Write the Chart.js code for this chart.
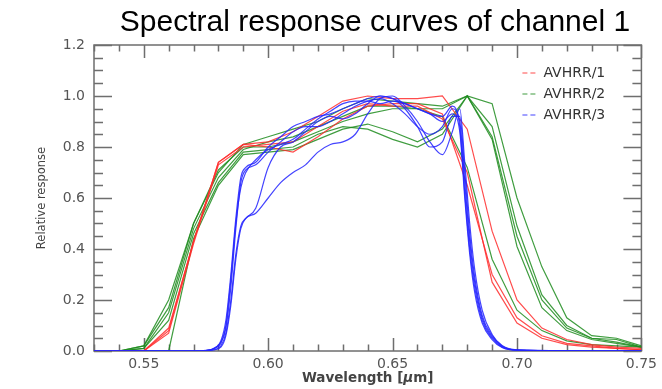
<!DOCTYPE html>
<html>
<head>
<meta charset="utf-8">
<script src="https://cdn.jsdelivr.net/npm/chart.js@4.4.1/dist/chart.umd.min.js"></script>
<style>
  html, body { margin: 0; padding: 0; background: #fff; }
  #wrap { width: 662px; height: 389px; position: relative; }
</style>
</head>
<body>
<div id="wrap"><canvas id="c" width="662" height="389"></canvas></div>
<script>
// ---- data ----
const chartTitle = 'Spectral response curves of channel 1';
const xTitle = ['Wavelength [', 'μ', 'm]'];
const yTitle = 'Relative response';
const seriesNames = ['AVHRR/1', 'AVHRR/2', 'AVHRR/3'];

const xTickValues = [0.55, 0.60, 0.65, 0.70, 0.75];
const xTickLabels = ['0.55', '0.60', '0.65', '0.70', '0.75'];
const yTickValues = [0.0, 0.2, 0.4, 0.6, 0.8, 1.0, 1.2];
const yTickLabels = ['0.0', '0.2', '0.4', '0.6', '0.8', '1.0', '1.2'];

// AVHRR/1 and AVHRR/2 are sampled every 0.01 µm
const wlCoarse = [0.53,0.54,0.55,0.56,0.57,0.58,0.59,0.60,0.61,0.62,0.63,0.64,0.65,0.66,0.67,0.68,0.69,0.70,0.71,0.72,0.73,0.74,0.75];

const avhrr1_a = [0,0,0,0.08,0.43,0.74,0.81,0.82,0.86,0.92,0.98,1.00,0.99,0.99,1.00,0.87,0.47,0.20,0.09,0.045,0.025,0.015,0.01];
const avhrr1_b = [0,0,0,0.09,0.43,0.74,0.81,0.80,0.78,0.84,0.91,0.96,0.97,0.97,0.93,0.65,0.30,0.13,0.06,0.03,0.02,0.01,0.005];
const avhrr1_c = [0,0,0,0.07,0.42,0.73,0.80,0.81,0.82,0.88,0.94,0.97,0.96,0.96,0.91,0.70,0.27,0.11,0.05,0.025,0.015,0.01,0.005];

const avhrr2_a = [0,0,0.02,0.20,0.50,0.70,0.81,0.84,0.87,0.90,0.95,0.99,0.98,0.97,0.96,1.00,0.97,0.60,0.33,0.13,0.06,0.05,0.02];
const avhrr2_b = [0,0,0.01,0.15,0.48,0.68,0.79,0.82,0.84,0.88,0.92,0.96,0.96,0.95,0.95,1.00,0.88,0.49,0.22,0.10,0.05,0.045,0.015];
const avhrr2_c = [0,0,0.01,0.12,0.46,0.66,0.78,0.79,0.80,0.85,0.88,0.87,0.83,0.80,0.85,1.00,0.84,0.45,0.20,0.09,0.05,0.035,0.015];
const avhrr2_d = [0,0,0,0,0.44,0.65,0.77,0.78,0.79,0.83,0.87,0.89,0.86,0.82,0.87,1.00,0.83,0.41,0.17,0.08,0.045,0.03,0.015];
const avhrr2_e = [0,0,0.02,0.17,0.50,0.71,0.80,0.80,0.82,0.86,0.90,0.93,0.95,0.95,0.92,0.72,0.36,0.16,0.08,0.04,0.025,0.02,0.015];

// AVHRR/3 is finely sampled
const wlFine = [0.53,0.57,0.575,0.578,0.581,0.583,0.585,0.587,0.589,0.591,0.595,0.60,0.605,0.61,0.615,0.62,0.625,0.63,0.635,0.64,0.645,0.65,0.655,0.66,0.665,0.67,0.674,0.677,0.679,0.681,0.683,0.686,0.69,0.694,0.70,0.75];

const avhrr3_a = [0,0,0.003,0.01,0.04,0.12,0.30,0.52,0.68,0.72,0.74,0.80,0.84,0.88,0.90,0.92,0.93,0.95,0.97,0.99,1.00,0.99,0.97,0.95,0.93,0.92,0.96,0.88,0.62,0.40,0.25,0.12,0.05,0.015,0.003,0];
const avhrr3_b = [0,0,0.002,0.008,0.03,0.09,0.25,0.48,0.66,0.71,0.73,0.78,0.82,0.86,0.88,0.88,0.90,0.93,0.96,0.98,0.99,0.97,0.93,0.88,0.85,0.88,0.95,0.90,0.66,0.43,0.27,0.13,0.055,0.018,0.004,0];
const avhrr3_c = [0,0,0.001,0.005,0.02,0.07,0.20,0.38,0.49,0.52,0.56,0.72,0.80,0.82,0.86,0.90,0.92,0.91,0.93,0.97,1.00,0.99,0.95,0.88,0.80,0.82,0.92,0.92,0.70,0.46,0.29,0.14,0.06,0.02,0.004,0];
const avhrr3_d = [0,0,0.001,0.004,0.015,0.06,0.18,0.36,0.48,0.52,0.54,0.60,0.66,0.70,0.73,0.78,0.81,0.82,0.85,0.93,0.99,1.00,0.96,0.90,0.82,0.77,0.86,0.95,0.74,0.50,0.32,0.16,0.065,0.022,0.005,0];
const avhrr3_e = [0,0,0.002,0.009,0.035,0.10,0.28,0.50,0.64,0.70,0.75,0.79,0.81,0.83,0.87,0.91,0.94,0.97,0.98,0.98,0.97,0.98,0.97,0.95,0.93,0.90,0.93,0.86,0.60,0.38,0.23,0.11,0.045,0.014,0.003,0];

// ---- styling ----
const COLORS = ['rgba(255,45,45,0.85)', 'rgba(30,140,30,0.85)', 'rgba(35,35,255,0.85)'];
const AXIS = '#6e6e6e';

function pts(xs, ys) { return xs.map((x, i) => ({ x: x, y: ys[i] })); }
function ds(group, xs, ys, smooth) {
  return {
    label: seriesNames[group],
    data: pts(xs, ys),
    borderColor: COLORS[group],
    borderWidth: 1.2,
    pointRadius: 0,
    showLine: true,
    tension: 0,
    cubicInterpolationMode: smooth ? 'monotone' : 'default',
    fill: false
  };
}

const datasets = [
  ds(2, wlFine, avhrr3_a, true), ds(2, wlFine, avhrr3_b, true), ds(2, wlFine, avhrr3_c, true),
  ds(2, wlFine, avhrr3_d, true), ds(2, wlFine, avhrr3_e, true),
  ds(0, wlCoarse, avhrr1_a), ds(0, wlCoarse, avhrr1_b), ds(0, wlCoarse, avhrr1_c),
  ds(1, wlCoarse, avhrr2_a), ds(1, wlCoarse, avhrr2_b), ds(1, wlCoarse, avhrr2_c),
  ds(1, wlCoarse, avhrr2_d), ds(1, wlCoarse, avhrr2_e)
];

const near = (a, b) => Math.abs(a - b) < 1e-9;

const framePlugin = {
  id: 'frame',
  beforeDatasetsDraw(chart) {
    const { ctx, chartArea: a, scales: { x, y } } = chart;
    ctx.save();
    ctx.strokeStyle = AXIS;
    ctx.lineWidth = 1.5;
    ctx.strokeRect(a.left, a.top, a.right - a.left, a.bottom - a.top);
    ctx.beginPath();
    for (let k = 53; k <= 75; k++) {
      const v = k / 100;
      const px = Math.round(x.getPixelForValue(v)) + 0.5;
      const L = xTickValues.some(m => near(m, v)) ? 13 : 6.5;
      ctx.moveTo(px, a.bottom); ctx.lineTo(px, a.bottom - L);
      ctx.moveTo(px, a.top); ctx.lineTo(px, a.top + L);
    }
    for (let k = 0; k <= 24; k++) {
      const v = k * 0.05;
      const py = Math.round(y.getPixelForValue(v)) + 0.5;
      const L = (k % 4 === 0) ? 18 : 9;
      ctx.moveTo(a.left, py); ctx.lineTo(a.left + L, py);
      ctx.moveTo(a.right, py); ctx.lineTo(a.right - L, py);
    }
    ctx.stroke();
    ctx.restore();
  },
  afterDraw(chart) {
    const { ctx, chartArea: a } = chart;
    ctx.save();
    // main title
    ctx.fillStyle = '#000';
    ctx.font = '30px "Liberation Sans", Arial, sans-serif';
    ctx.textAlign = 'center';
    ctx.textBaseline = 'alphabetic';
    ctx.fillText(chartTitle, 375, 31);
    // y title
    ctx.save();
    ctx.translate(42, (a.top + a.bottom) / 2);
    ctx.rotate(-Math.PI / 2);
    ctx.font = '11.5px "DejaVu Sans", sans-serif';
    ctx.fillStyle = '#444';
    ctx.textAlign = 'center';
    ctx.textBaseline = 'middle';
    ctx.fillText(yTitle, 0, 0);
    ctx.restore();
    // x title with italic mu
    const fN = 'bold 13.5px "DejaVu Sans", sans-serif';
    const fI = 'italic bold 13.5px "DejaVu Sans", sans-serif';
    const fonts = [fN, fI, fN];
    let widths = xTitle.map((t, i) => { ctx.font = fonts[i]; return ctx.measureText(t).width; });
    let tot = widths.reduce((s, w) => s + w, 0);
    let cx = (a.left + a.right) / 2 - tot / 2;
    ctx.fillStyle = '#444';
    ctx.textAlign = 'left';
    ctx.textBaseline = 'middle';
    xTitle.forEach((t, i) => { ctx.font = fonts[i]; ctx.fillText(t, cx, 378); cx += widths[i]; });
    // legend
    ctx.font = '14px "DejaVu Sans", sans-serif';
    ctx.textBaseline = 'middle';
    seriesNames.forEach((name, i) => {
      const yy = a.top + 28 + i * 21;
      ctx.strokeStyle = COLORS[i];
      ctx.lineWidth = 1.2;
      ctx.setLineDash([5, 3]);
      ctx.beginPath();
      ctx.moveTo(a.right - 119, yy); ctx.lineTo(a.right - 106, yy);
      ctx.stroke();
      ctx.setLineDash([]);
      ctx.fillStyle = '#333';
      ctx.fillText(name, a.right - 98, yy);
    });
    ctx.restore();
  }
};

new Chart(document.getElementById('c'), {
  type: 'scatter',
  data: { datasets: datasets },
  plugins: [framePlugin],
  options: {
    responsive: false,
    animation: false,
    layout: { padding: { top: 45, right: 20, left: 0, bottom: 0 } },
    plugins: { legend: { display: false }, tooltip: { enabled: false }, title: { display: false } },
    scales: {
      x: {
        type: 'linear', min: 0.53, max: 0.75,
        afterBuildTicks: s => { s.ticks = xTickValues.map(v => ({ value: v })); },
        afterFit: s => { s.height = 38; },
        grid: { display: false, drawTicks: false },
        border: { display: false },
        ticks: {
          padding: 5, color: '#555', font: { family: 'DejaVu Sans', size: 14 },
          autoSkip: false, maxRotation: 0,
          callback: v => { const i = xTickValues.findIndex(m => near(m, v)); return i >= 0 ? xTickLabels[i] : ''; }
        }
      },
      y: {
        type: 'linear', min: 0, max: 1.2,
        afterBuildTicks: s => { s.ticks = yTickValues.map(v => ({ value: v })); },
        afterFit: s => { s.width = 94; },
        grid: { display: false, drawTicks: false },
        border: { display: false },
        ticks: {
          padding: 9, color: '#555', font: { family: 'DejaVu Sans', size: 14 },
          autoSkip: false,
          callback: v => { const i = yTickValues.findIndex(m => near(m, v)); return i >= 0 ? yTickLabels[i] : ''; }
        }
      }
    }
  }
});
</script>
</body>
</html>
